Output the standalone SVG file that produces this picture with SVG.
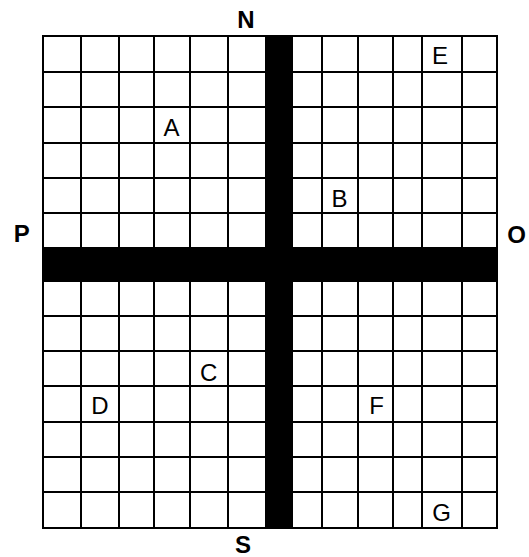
<svg xmlns="http://www.w3.org/2000/svg" width="529" height="557" viewBox="0 0 529 557">
<style>
.g line{stroke:#000;stroke-width:2}
.lbl{font-family:"Liberation Sans",Arial,sans-serif;font-size:24px;text-anchor:middle;fill:#000}
.dir{font-family:"Liberation Sans",Arial,sans-serif;font-size:24px;font-weight:bold;text-anchor:middle;fill:#000}
</style>
<rect width="529" height="557" fill="#fff"/>
<g id="grid" class="g">
<line x1="43" y1="36" x2="43" y2="528"/>
<line x1="81" y1="36" x2="81" y2="528"/>
<line x1="119" y1="36" x2="119" y2="528"/>
<line x1="154" y1="36" x2="154" y2="528"/>
<line x1="190" y1="36" x2="190" y2="528"/>
<line x1="228" y1="36" x2="228" y2="528"/>
<line x1="266" y1="36" x2="266" y2="528"/>
<line x1="292" y1="36" x2="292" y2="528"/>
<line x1="322" y1="36" x2="322" y2="528"/>
<line x1="358" y1="36" x2="358" y2="528"/>
<line x1="393" y1="36" x2="393" y2="528"/>
<line x1="422" y1="36" x2="422" y2="528"/>
<line x1="462" y1="36" x2="462" y2="528"/>
<line x1="497" y1="36" x2="497" y2="528"/>
<line x1="42" y1="36" x2="498" y2="36"/>
<line x1="42" y1="72" x2="498" y2="72"/>
<line x1="42" y1="107" x2="498" y2="107"/>
<line x1="42" y1="143" x2="498" y2="143"/>
<line x1="42" y1="178" x2="498" y2="178"/>
<line x1="42" y1="213" x2="498" y2="213"/>
<line x1="42" y1="248" x2="498" y2="248"/>
<line x1="42" y1="281" x2="498" y2="281"/>
<line x1="42" y1="316" x2="498" y2="316"/>
<line x1="42" y1="351" x2="498" y2="351"/>
<line x1="42" y1="386" x2="498" y2="386"/>
<line x1="42" y1="422" x2="498" y2="422"/>
<line x1="42" y1="457" x2="498" y2="457"/>
<line x1="42" y1="492" x2="498" y2="492"/>
<line x1="42" y1="528" x2="498" y2="528"/>
</g>
<g id="bars">
<rect x="265.5" y="35" width="27" height="494" fill="#000"/>
<rect x="42" y="248" width="456" height="33" fill="#000"/>
</g>
<g id="points">
<text class="lbl" x="171.5" y="136">A</text>
<text class="lbl" x="339.5" y="206.5">B</text>
<text class="lbl" x="208.7" y="380.5">C</text>
<text class="lbl" x="100" y="414">D</text>
<text class="lbl" x="440" y="64.3">E</text>
<text class="lbl" x="376.5" y="414">F</text>
<text class="lbl" x="441.7" y="521">G</text>
</g>
<g id="directions">
<text class="dir" x="246" y="27.7">N</text>
<text class="dir" x="243" y="553">S</text>
<text class="dir" x="21.7" y="242">P</text>
<text class="dir" x="516.5" y="242.5">O</text>
</g>
</svg>
